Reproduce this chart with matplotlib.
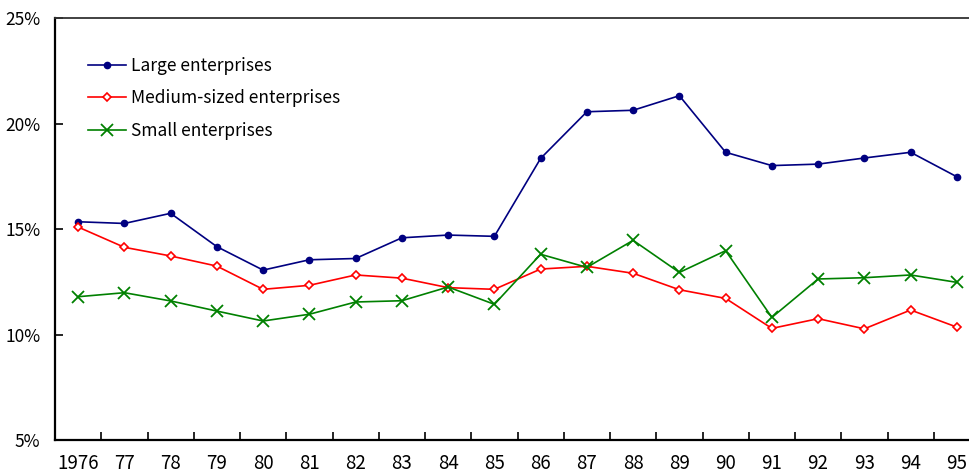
import matplotlib
matplotlib.use("Agg")
import matplotlib.pyplot as plt
import numpy as np

plt.rcParams['font.family'] = ['Noto Sans CJK JP', 'DejaVu Sans']

years = ["1976", "77", "78", "79", "80", "81", "82", "83", "84", "85",
         "86", "87", "88", "89", "90", "91", "92", "93", "94", "95"]
large = [15.35, 15.27, 15.75, 14.17, 13.06, 13.55, 13.61, 14.59, 14.72, 14.66,
         18.35, 20.56, 20.63, 21.32, 18.64, 18.01, 18.08, 18.37, 18.64, 17.48]
medium = [15.10, 14.14, 13.73, 13.25, 12.15, 12.34, 12.83, 12.68, 12.23, 12.15,
          13.11, 13.24, 12.91, 12.13, 11.72, 10.30, 10.76, 10.28, 11.17, 10.36]
small = [11.80, 11.99, 11.60, 11.12, 10.65, 10.97, 11.55, 11.61, 12.26, 11.44,
         13.81, 13.19, 14.47, 12.95, 13.98, 10.82, 12.64, 12.70, 12.83, 12.48]
y_ticks = [5, 10, 15, 20, 25]

fig = plt.figure(figsize=(9.7, 4.75), dpi=100)
ax = fig.add_axes([55 / 970, 34.7 / 475, 925 / 970, 422.3 / 475])

x = np.arange(len(years))
ax.plot(x, large, color='#000080', lw=1.2, marker='o', ms=4.5,
        mfc='#000080', mec='#000080', label='Large enterprises')
ax.plot(x, medium, color='#FF0000', lw=1.2, marker='D', ms=4,
        mfc='white', mec='#FF0000', mew=1.2, label='Medium-sized enterprises')
ax.plot(x, small, color='#008000', lw=1.2, marker='x', ms=8,
        mec='#008000', mew=1.3, label='Small enterprises')

ax.set_xlim(-0.5, len(years) - 0.5)
ax.set_ylim(5, 25)

# tick marks sit between years; labels sit under each year
ax.set_xticks(np.arange(0.5, len(years) - 0.5, 1.0))
ax.set_xticklabels([])
ax.set_xticks(x, minor=True)
ax.set_xticklabels(years, minor=True, fontsize=13.5)
ax.tick_params(axis='x', which='major', direction='in', length=6, width=1.2, color='black')
ax.tick_params(axis='x', which='minor', length=0, pad=9)

ax.set_yticks(y_ticks)
ax.set_yticklabels([f"{v}%" for v in y_ticks], fontsize=12.5)
ax.tick_params(axis='y', direction='in', length=6, width=1.2, pad=10.5)

for side in ['left', 'bottom']:
    ax.spines[side].set_linewidth(1.6)
    ax.spines[side].set_color('black')
ax.spines['top'].set_linewidth(1.3)
ax.spines['top'].set_color('#333333')
ax.spines['right'].set_visible(False)

ax.legend(loc='upper left', bbox_to_anchor=(26 / 925, 0.925), frameon=False,
          fontsize=12.5, handlelength=2.2, handletextpad=0.3, labelspacing=0.85,
          borderaxespad=0)

fig.savefig('out.png', dpi=100)
